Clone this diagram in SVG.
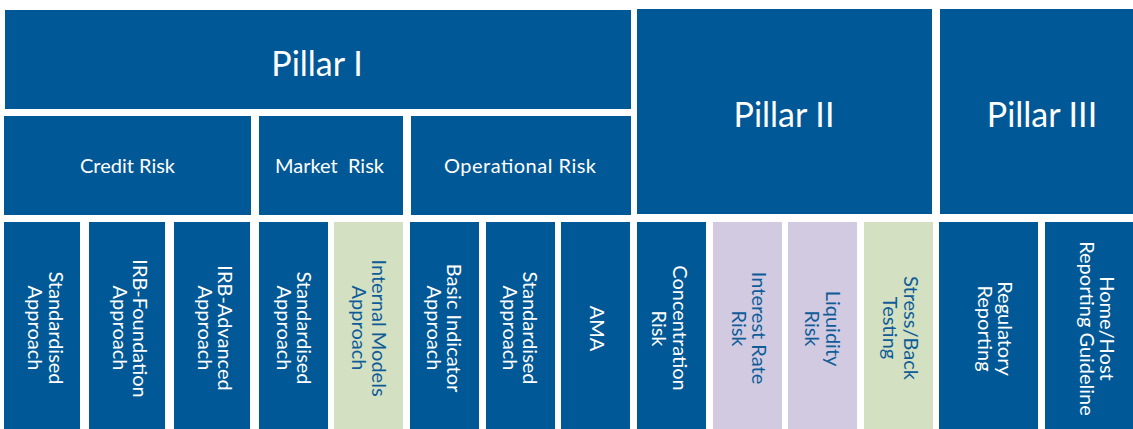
<svg xmlns="http://www.w3.org/2000/svg" width="1133" height="429" viewBox="0 0 1133 429">
<style>
.b{fill:#005896}
.g{fill:#d3e1c2}
.p{fill:#d1cae1}
text{font-family:Lato,"Open Sans","Liberation Sans",sans-serif;font-weight:400;fill:#ffffff;text-anchor:middle;white-space:pre}
.big{font-size:34px}
.mid{font-size:20px}
.v{font-size:20px}
.dk{fill:#0f5c98}
</style>
<rect width="1133" height="429" fill="#ffffff"/>
<g id="pillar1"><rect class="b" x="5" y="10" width="626" height="99"/><text class="big" x="317" y="76">Pillar I</text></g>
<g id="pillar2"><rect class="b" x="637" y="9" width="295" height="205"/><text class="big" x="784" y="127">Pillar II</text></g>
<g id="pillar3"><rect class="b" x="940" y="9" width="193" height="205"/><text class="big" x="1042" y="127">Pillar III</text></g>
<g id="credit"><rect class="b" x="4" y="116" width="247" height="99"/><text class="mid" x="127.5" y="173">Credit Risk</text></g>
<g id="market"><rect class="b" x="259" y="116" width="144" height="99"/><text class="mid" x="329.5" y="173">Market  Risk</text></g>
<g id="operational"><rect class="b" x="411" y="116" width="220" height="99"/><text class="mid" x="520" y="173" textLength="152">Operational Risk</text></g>

<g id="cr-std"><rect class="b" x="4" y="222" width="76" height="207"/>
<text class="v" transform="translate(48.5,328) rotate(90)">Standardised</text>
<text class="v" transform="translate(28,328) rotate(90)">Approach</text></g>
<g id="cr-irbf"><rect class="b" x="89" y="222" width="76" height="207"/>
<text class="v" transform="translate(133,328.5) rotate(90)">IRB-Foundation</text>
<text class="v" transform="translate(112.5,328) rotate(90)">Approach</text></g>
<g id="cr-irba"><rect class="b" x="174" y="222" width="76" height="207"/>
<text class="v" transform="translate(218,328) rotate(90)">IRB-Advanced</text>
<text class="v" transform="translate(197.5,328) rotate(90)">Approach</text></g>
<g id="mr-std"><rect class="b" x="259" y="222" width="69" height="207"/>
<text class="v" transform="translate(297,328) rotate(90)">Standardised</text>
<text class="v" transform="translate(277,328) rotate(90)">Approach</text></g>
<g id="mr-ima"><rect class="g" x="334" y="222" width="69" height="207"/>
<text class="v dk" transform="translate(372,328) rotate(90)">Internal Models</text>
<text class="v dk" transform="translate(352,328) rotate(90)">Approach</text></g>
<g id="or-bia"><rect class="b" x="410" y="222" width="69" height="207"/>
<text class="v" transform="translate(447,328) rotate(90)">Basic Indicator</text>
<text class="v" transform="translate(426.5,328) rotate(90)">Approach</text></g>
<g id="or-std"><rect class="b" x="486" y="222" width="69" height="207"/>
<text class="v" transform="translate(523,328) rotate(90)">Standardised</text>
<text class="v" transform="translate(502.5,328) rotate(90)">Approach</text></g>
<g id="or-ama"><rect class="b" x="561" y="222" width="69" height="207"/>
<text class="v" transform="translate(590,328.5) rotate(90)">AMA</text></g>
<g id="p2-conc"><rect class="b" x="637" y="222" width="69" height="207"/>
<text class="v" transform="translate(673,328) rotate(90)">Concentration</text>
<text class="v" transform="translate(652,328.5) rotate(90)">Risk</text></g>
<g id="p2-irr"><rect class="p" x="713" y="222" width="69" height="207"/>
<text class="v dk" transform="translate(752,328) rotate(90)">Interest Rate</text>
<text class="v dk" transform="translate(731.5,328.5) rotate(90)">Risk</text></g>
<g id="p2-liq"><rect class="p" x="788" y="222" width="69" height="207"/>
<text class="v dk" transform="translate(826,328.5) rotate(90)">Liquidity</text>
<text class="v dk" transform="translate(805,328.5) rotate(90)">Risk</text></g>
<g id="p2-stress"><rect class="g" x="864" y="222" width="69" height="207"/>
<text class="v dk" transform="translate(903.5,328) rotate(90)">Stress/Back</text>
<text class="v dk" transform="translate(883,328) rotate(90)">Testing</text></g>
<g id="p3-reg"><rect class="b" x="939" y="222" width="99" height="207"/>
<text class="v" transform="translate(998,328.5) rotate(90)">Regulatory</text>
<text class="v" transform="translate(977.5,328.5) rotate(90)">Reporting</text></g>
<g id="p3-home"><rect class="b" x="1045" y="222" width="88" height="207"/>
<text class="v" transform="translate(1100,328.5) rotate(90)">Home/Host</text>
<text class="v" transform="translate(1079.5,328.5) rotate(90)">Reporting Guideline</text></g>
<g id="connectors"/>
</svg>
